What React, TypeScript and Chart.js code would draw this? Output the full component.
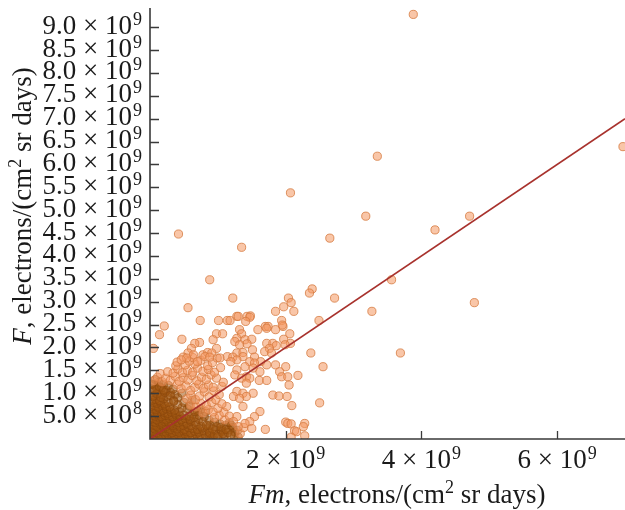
import { useEffect, useRef } from "react";
import { Chart, registerables } from "chart.js";

Chart.register(...registerables);

// All values in units of 1e9 electrons/(cm^2 sr days)
const UNIT = 1e9;

// Dense core of the cloud (heavily overlapping points): [Fm, F]
const denseCore: [number, number][] = [
  [0.02, 0.03], [0.06, 0.01], [0.11, 0.04], [0.15, 0.02], [0.2, 0.05], [0.24, 0.01], [0.29, 0.03], [0.33, 0.02], [0.38, 0.05], [0.43, 0.01], [0.48, 0.04], [0.53, 0.02], [0.58, 0.03], [0.64, 0.01], [0.7, 0.05], [0.76, 0.02], [0.83, 0.04], [0.9, 0.02],
  [0.04, 0.1], [0.08, 0.08], [0.13, 0.11], [0.17, 0.07], [0.22, 0.1], [0.27, 0.09], [0.31, 0.12], [0.36, 0.08], [0.41, 0.1], [0.46, 0.07], [0.51, 0.11], [0.56, 0.09], [0.62, 0.08], [0.68, 0.11], [0.74, 0.09], [0.81, 0.1], [0.88, 0.08],
  [0.01, 0.15], [0.05, 0.17], [0.1, 0.14], [0.14, 0.18], [0.19, 0.16], [0.24, 0.15], [0.28, 0.18], [0.33, 0.14], [0.38, 0.17], [0.43, 0.15], [0.49, 0.18], [0.54, 0.16], [0.6, 0.14], [0.66, 0.17], [0.72, 0.15], [0.79, 0.18], [0.87, 0.16],
  [0.03, 0.24], [0.07, 0.22], [0.12, 0.25], [0.16, 0.21], [0.21, 0.24], [0.26, 0.23], [0.3, 0.21], [0.35, 0.25], [0.4, 0.22], [0.45, 0.24], [0.51, 0.21], [0.57, 0.25], [0.63, 0.23], [0.7, 0.21], [0.77, 0.24], [0.85, 0.22],
  [0.02, 0.29], [0.06, 0.31], [0.1, 0.28], [0.15, 0.32], [0.19, 0.3], [0.24, 0.28], [0.29, 0.31], [0.34, 0.29], [0.39, 0.32], [0.44, 0.28], [0.49, 0.3], [0.55, 0.32], [0.61, 0.29], [0.68, 0.31], [0.75, 0.28],
  [0.04, 0.38], [0.08, 0.36], [0.13, 0.39], [0.18, 0.35], [0.22, 0.38], [0.27, 0.37], [0.32, 0.35], [0.37, 0.39], [0.42, 0.36], [0.48, 0.38], [0.54, 0.35], [0.6, 0.39], [0.67, 0.37],
  [0.01, 0.43], [0.05, 0.45], [0.1, 0.42], [0.14, 0.46], [0.19, 0.44], [0.24, 0.42], [0.29, 0.45], [0.35, 0.43], [0.4, 0.46], [0.46, 0.42], [0.52, 0.45], [0.59, 0.43],
  [0.03, 0.52], [0.08, 0.5], [0.12, 0.53], [0.17, 0.49], [0.22, 0.52], [0.27, 0.51], [0.33, 0.49], [0.38, 0.53], [0.44, 0.5], [0.5, 0.52],
  [0.02, 0.57], [0.06, 0.59], [0.11, 0.56], [0.16, 0.6], [0.21, 0.58], [0.26, 0.56], [0.31, 0.59], [0.37, 0.57], [0.43, 0.6],
  [0.04, 0.66], [0.09, 0.64], [0.14, 0.67], [0.19, 0.63], [0.24, 0.66], [0.3, 0.65], [0.36, 0.63],
  [0.02, 0.71], [0.07, 0.73], [0.12, 0.7], [0.17, 0.74], [0.23, 0.72], [0.29, 0.7],
  [0.05, 0.8], [0.1, 0.78], [0.15, 0.81], [0.21, 0.77], [0.27, 0.8],
  [0.03, 0.85], [0.08, 0.87], [0.14, 0.84], [0.2, 0.88],
  [0.93, 0.04], [1.01, 0.11], [1.08, 0.03], [0.97, 0.19], [0.89, 0.3], [0.88, 0.13], [1.05, 0.16], [1.03, 0.33],
  [0.95, 0.37], [0.72, 0.43], [0.8, 0.49], [0.87, 0.41], [0.63, 0.55], [0.7, 0.61], [0.55, 0.66],
  [0.95, 0.1], [1.0, 0.05], [1.05, 0.2], [1.1, 0.08], [1.12, 0.3], [0.98, 0.27], [1.08, 0.12], [0.92, 0.22],
  [1.16, 0.2], [1.25, 0.15], [1.3, 0.04], [1.22, 0.25], [1.15, 0.14], [1.24, 0.06], [1.05, 0.26], [1.12, 0.21],
  [1.19, 0.09], [1.2, 0.3], [1.17, 0.36], [1.29, 0.19],
  [0.06, 0.95], [0.12, 1.0], [0.18, 0.96], [0.25, 0.93], [0.03, 1.05], [0.1, 1.1], [0.17, 1.12], [0.24, 1.06],
  [0.3, 1.02], [0.06, 1.18], [0.13, 1.24], [0.2, 1.2], [0.37, 0.97], [0.08, 1.3], [0.04, 0.93], [0.1, 0.99],
  [0.16, 0.91], [0.22, 1.02], [0.3, 0.95], [0.35, 0.84], [0.41, 0.9], [0.47, 1.0], [0.07, 1.08], [0.14, 1.14],
  [0.2, 1.07], [0.27, 1.17], [0.34, 1.09], [0.02, 1.2],
  [0.58, 0.5], [0.65, 0.47], [0.72, 0.52], [0.66, 0.6], [0.75, 0.65], [0.58, 0.72], [0.47, 0.68], [0.41, 0.75],
  [0.35, 0.82], [0.5, 0.8], [0.62, 0.85], [0.82, 0.6], [0.78, 0.38], [0.83, 0.3],
];

// Looser part of the cloud around the core: [Fm, F]
const cloudSpread: [number, number][] = [
  [1.33, 0.12], [1.38, 0.25], [1.1, 0.42],
  [0.95, 0.47], [1.02, 0.52], [1.09, 0.58], [1.17, 0.5], [0.78, 0.57],
  [0.86, 0.64], [0.93, 0.59], [1.0, 0.67], [1.13, 0.71], [0.6, 0.74], [0.68, 0.7], [0.75, 0.78], [0.83, 0.73], [0.91, 0.8],
  [1.06, 0.77], [0.97, 0.86],
  [0.54, 0.88], [0.6, 0.96],
  [0.67, 0.86], [0.73, 0.94], [0.8, 1.03], [0.87, 0.92], [0.94, 1.05], [1.02, 0.97],
  [0.4, 1.19], [0.46, 1.1], [0.53, 1.16], [0.6, 1.06], [0.66, 1.13], [0.72, 1.2], [0.79, 1.11], [0.86, 1.18], [0.93, 1.13],
  [1.06, 1.15],
  [0.05, 1.27], [0.11, 1.35], [0.18, 1.25], [0.23, 1.33], [0.3, 1.28], [0.37, 1.37], [0.43, 1.26], [0.49, 1.34], [0.56, 1.29], [0.62, 1.39],
  [0.69, 1.27], [0.76, 1.35], [0.83, 1.3], [0.9, 1.4], [0.98, 1.33], [1.08, 1.24], [0.15, 1.43], [0.26, 1.47], [0.34, 1.44], [0.41, 1.53],
  [0.48, 1.45], [0.55, 1.5], [0.63, 1.46], [0.7, 1.55], [0.78, 1.48], [0.86, 1.52], [0.95, 1.46], [1.04, 1.56], [0.38, 1.6], [0.52, 1.62],
  [0.66, 1.64], [0.85, 1.6], [0.58, 1.7], [0.75, 1.72], [0.92, 1.67], [0.4, 1.68], [0.63, 1.78], [0.78, 1.84], [0.99, 1.77],
];

// Individually visible points: [Fm, F]
const scatteredPoints: [number, number][] = [
  [3.88, 9.28], [3.35, 6.18], [6.97, 6.39], [2.07, 5.38], [3.18, 4.87], [4.71, 4.87], [4.2, 4.57],
  [0.42, 4.48], [2.65, 4.39], [1.35, 4.19], [3.56, 3.48], [0.88, 3.48], [2.39, 3.28], [2.35, 3.19],
  [2.72, 3.08], [1.22, 3.08], [2.04, 3.08], [4.78, 2.98], [2.08, 2.98], [1.97, 2.89], [0.56, 2.87],
  [3.27, 2.79], [2.12, 2.79], [1.85, 2.79], [1.28, 2.68], [1.43, 2.68], [1.48, 2.69], [1.3, 2.68],
  [1.47, 2.66], [0.74, 2.59], [1.01, 2.59], [1.14, 2.59], [1.18, 2.59], [1.41, 2.57], [1.94, 2.59],
  [2.49, 2.59], [0.21, 2.47], [1.7, 2.46], [1.74, 2.46], [1.96, 2.46], [1.95, 2.49], [1.59, 2.39],
  [1.72, 2.42], [1.85, 2.39], [1.32, 2.39], [0.14, 2.28], [1.35, 2.3], [2.06, 2.3], [0.98, 2.3],
  [1.07, 2.3], [0.47, 2.18], [1.28, 2.2], [1.4, 2.17], [1.5, 2.18], [1.97, 2.18], [0.93, 2.17],
  [1.25, 2.13], [0.73, 2.11], [0.66, 2.09], [1.43, 2.08], [1.72, 2.09], [1.81, 2.09], [2.07, 2.09],
  [1.32, 2.06], [1.86, 2.04], [1.99, 2.06], [0.05, 1.98], [0.61, 1.98], [0.98, 1.98], [1.76, 1.98],
  [1.51, 1.95], [1.69, 1.91], [2.37, 1.88], [3.69, 1.88], [1.79, 1.88], [1.28, 1.88], [1.37, 1.89],
  [0.56, 1.88], [0.85, 1.89], [0.91, 1.88], [0.64, 1.84], [0.81, 1.8], [1.14, 1.8], [1.37, 1.8],
  [0.49, 1.79], [1.22, 1.79], [0.88, 1.79], [1.54, 1.79], [0.54, 1.77], [1.03, 1.77], [0.46, 1.73],
  [1.28, 1.73], [0.7, 1.69], [1.19, 1.69], [1.47, 1.69], [1.63, 1.69], [1.54, 1.66], [1.72, 1.62],
  [1.85, 1.62], [2.55, 1.58], [2.0, 1.58], [1.4, 1.58], [1.52, 1.55], [1.28, 1.51], [1.62, 1.47],
  [1.91, 1.47], [1.25, 1.4], [2.18, 1.39], [1.94, 1.36], [2.03, 1.36], [1.42, 1.36], [1.35, 1.33],
  [1.47, 1.33], [1.61, 1.28], [1.72, 1.28], [1.42, 1.22], [2.05, 1.18], [1.28, 1.04], [1.37, 1.0],
  [1.52, 1.0], [1.81, 0.96], [1.9, 0.94], [2.02, 0.93], [1.42, 0.93], [1.23, 0.93], [1.32, 0.89],
  [2.5, 0.79], [2.09, 0.73], [1.37, 0.71], [1.62, 0.6], [1.54, 0.49], [1.28, 0.49], [1.47, 0.38],
  [1.23, 0.38], [2.0, 0.37], [1.4, 0.34], [2.03, 0.34], [2.28, 0.34], [2.08, 0.33], [1.3, 0.27],
  [2.26, 0.27], [1.5, 0.23], [1.7, 0.21], [2.13, 0.18], [2.16, 0.16], [2.28, 0.07], [2.08, 0.04],
];

// Fitted line F = Fm
const fitLineFm = [0, 7];
const fitLineF = [0, 7];

// Axes
const xMin = 0;
const xMax = 7;
const yMin = 0;
const yMax = 9.42;
const xTickValues = [2, 4, 6];
const xTickLabels = ["2 × 10^9", "4 × 10^9", "6 × 10^9"];
const yTickValues = [0.5, 1, 1.5, 2, 2.5, 3, 3.5, 4, 4.5, 5, 5.5, 6, 6.5, 7, 7.5, 8, 8.5, 9];
const yTickLabels = [
  "5.0 × 10^8", "1.0 × 10^9", "1.5 × 10^9", "2.0 × 10^9", "2.5 × 10^9", "3.0 × 10^9",
  "3.5 × 10^9", "4.0 × 10^9", "4.5 × 10^9", "5.0 × 10^9", "5.5 × 10^9", "6.0 × 10^9",
  "6.5 × 10^9", "7.0 × 10^9", "7.5 × 10^9", "8.0 × 10^9", "8.5 × 10^9", "9.0 × 10^9",
];
const xTitle = ["Fm", ", electrons/(cm", "2", " sr days)"];
const yTitle = ["F", ", electrons/(cm", "2", " sr days)"];

const FONT_FAMILY = '"Liberation Serif", "Times New Roman", serif';
const FONT_SIZE = 27;
const SUP_SIZE = 18;

function drawSci(ctx: CanvasRenderingContext2D, label: string, x: number, y: number, align: "right" | "center") {
  const [base, exp] = label.split("^");
  ctx.font = `${FONT_SIZE}px ${FONT_FAMILY}`;
  const w1 = ctx.measureText(base).width;
  ctx.font = `${SUP_SIZE}px ${FONT_FAMILY}`;
  const w2 = ctx.measureText(exp).width;
  const total = w1 + w2 + 1;
  const start = align === "right" ? x - total : x - total / 2;
  ctx.textAlign = "left";
  ctx.textBaseline = "alphabetic";
  ctx.font = `${FONT_SIZE}px ${FONT_FAMILY}`;
  ctx.fillText(base, start, y);
  ctx.font = `${SUP_SIZE}px ${FONT_FAMILY}`;
  ctx.fillText(exp, start + w1 + 1, y - 9);
}

function drawTitle(ctx: CanvasRenderingContext2D, parts: string[], cx: number, baseline: number) {
  const fonts = [
    `italic ${FONT_SIZE}px ${FONT_FAMILY}`,
    `${FONT_SIZE}px ${FONT_FAMILY}`,
    `${SUP_SIZE}px ${FONT_FAMILY}`,
    `${FONT_SIZE}px ${FONT_FAMILY}`,
  ];
  const offsets = [0, 0, -10, 0];
  const widths = parts.map((p, i) => {
    ctx.font = fonts[i];
    return ctx.measureText(p).width;
  });
  const total = widths.reduce((a, b) => a + b, 0);
  let x = cx - total / 2;
  ctx.textAlign = "left";
  ctx.textBaseline = "alphabetic";
  parts.forEach((p, i) => {
    ctx.font = fonts[i];
    ctx.fillText(p, x, baseline + offsets[i]);
    x += widths[i];
  });
}

const axesPlugin = {
  id: "customAxes",
  afterDatasetsDraw(chart: any) {
    const { ctx, chartArea, scales } = chart;
    const xs = scales.x;
    const ys = scales.y;
    const x0 = xs.getPixelForValue(xMin * UNIT);
    const y0 = ys.getPixelForValue(yMin * UNIT);
    ctx.save();
    ctx.strokeStyle = "#3a3a3a";
    ctx.lineWidth = 1.6;
    ctx.beginPath();
    ctx.moveTo(x0, chartArea.top);
    ctx.lineTo(x0, y0 + 0.8);
    ctx.moveTo(x0 - 0.8, y0);
    ctx.lineTo(chartArea.right, y0);
    ctx.stroke();

    ctx.lineWidth = 1.3;
    ctx.beginPath();
    yTickValues.forEach((v) => {
      const py = Math.round(ys.getPixelForValue(v * UNIT)) + 0.5;
      ctx.moveTo(x0, py);
      ctx.lineTo(x0 + 9, py);
    });
    xTickValues.forEach((v) => {
      const px = Math.round(xs.getPixelForValue(v * UNIT)) + 0.5;
      ctx.moveTo(px, y0);
      ctx.lineTo(px, y0 - 8);
    });
    ctx.stroke();

    ctx.fillStyle = "#1a1a1a";
    yTickValues.forEach((v, i) => {
      const py = ys.getPixelForValue(v * UNIT);
      drawSci(ctx, yTickLabels[i], x0 - 8, py + 6.5, "right");
    });
    xTickValues.forEach((v, i) => {
      const px = xs.getPixelForValue(v * UNIT);
      drawSci(ctx, xTickLabels[i], px, y0 + 28.5, "center");
    });

    drawTitle(ctx, xTitle, 397, 503);
    ctx.translate(31, 206);
    ctx.rotate(-Math.PI / 2);
    drawTitle(ctx, yTitle, 0, 0);
    ctx.restore();
  },
};

function toXY(list: [number, number][]) {
  return list.map(([fm, f]) => ({ x: fm * UNIT, y: f * UNIT }));
}

export default function App() {
  const canvasRef = useRef<HTMLCanvasElement | null>(null);

  useEffect(() => {
    if (!canvasRef.current) return;
    const line = fitLineFm.map((fm, i) => ({ x: fm * UNIT, y: fitLineF[i] * UNIT }));
    const chart = new Chart(canvasRef.current, {
      type: "scatter",
      data: {
        datasets: [
          {
            type: "line",
            data: line,
            borderColor: "#a8322d",
            borderWidth: 1.6,
            pointRadius: 0,
            fill: false,
            order: 0,
          } as any,
          {
            type: "scatter",
            data: [...toXY(cloudSpread), ...toXY(scatteredPoints)],
            backgroundColor: "rgba(244, 152, 96, 0.55)",
            borderColor: "rgba(214, 122, 64, 0.8)",
            borderWidth: 1,
            pointRadius: 4.1,
            order: 1,
          },
          {
            type: "scatter",
            data: toXY(denseCore),
            backgroundColor: "rgba(160, 86, 16, 0.55)",
            borderColor: "rgba(136, 70, 12, 0.6)",
            borderWidth: 1,
            pointRadius: 4.1,
            order: 2,
          },
        ],
      },
      options: {
        responsive: false,
        animation: false,
        events: [],
        layout: { autoPadding: false, padding: { left: 150, right: 0, top: 8, bottom: 71 } },
        plugins: { legend: { display: false }, tooltip: { enabled: false } },
        scales: {
          x: { type: "linear", min: xMin * UNIT, max: xMax * UNIT, display: false },
          y: { type: "linear", min: yMin * UNIT, max: yMax * UNIT, display: false },
        },
      },
      plugins: [axesPlugin],
    });
    return () => chart.destroy();
  }, []);

  return (
    <div style={{ position: "absolute", left: 0, top: 0, width: 625, height: 510, background: "#fff" }}>
      <canvas ref={canvasRef} width={625} height={510} style={{ display: "block" }} />
    </div>
  );
}
